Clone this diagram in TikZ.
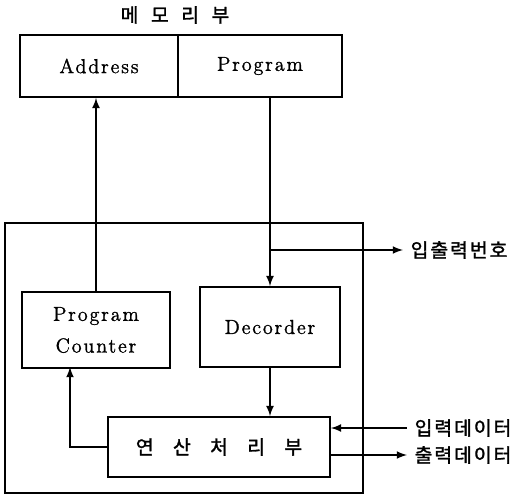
\documentclass[tikz,border=0pt]{standalone}
\usepackage{fontspec}
\setmainfont{Latin Modern Roman}[LetterSpace=9,FakeBold=1.2]
\newfontfamily\kr{Noto Sans CJK KR}[LetterSpace=10,FakeBold=1.5]
\usetikzlibrary{positioning}

\begin{document}
\begin{tikzpicture}[x=0.02cm,y=-0.02cm,thick]
    %
    % `block' is used for the boxes, `label' for the Korean texts.
    \tikzstyle{block} = [draw,line width=1pt,inner sep=0pt,font=\fontsize{11.5}{13}\selectfont]
    \tikzstyle{label} = [font=\fontsize{11}{13}\kr,inner sep=0pt]
    \tikzstyle{flow} = [-latex,line width=1pt]
    %
    \useasboundingbox (0,0) rectangle (514,501);
    %
    % Memory
    \node[label] (mem) at (175,15) {메\ \ 모\ \ 리\ \ 부};
    \node[block,minimum width=158*0.02cm,minimum height=62*0.02cm] (addr) at (99,66) {Address};
    \node[block,minimum width=164*0.02cm,minimum height=62*0.02cm] (prog) at (260,66) {Program};
    %
    % CPU frame
    \node[draw,line width=1.4pt,minimum width=358*0.02cm,minimum height=270*0.02cm] (cpu) at (184,358) {};
    %
    % Inner blocks
    \node[block,align=center,minimum width=148*0.02cm,minimum height=76*0.02cm] (pc) at (96,330) {Program\\[5pt]Counter};
    \node[block,minimum width=140*0.02cm,minimum height=80*0.02cm] (dec) at (270,327) {Decorder};
    \node[block,font=\fontsize{11}{13}\kr,minimum width=222*0.02cm,minimum height=60*0.02cm] (alu) at (219,447) {연\quad 산\quad 처\quad 리\quad 부};
    %
    % Outside labels
    \node[label,anchor=west] (ionum) at (410,250) {입출력번호};
    \node[label,anchor=west] (din) at (414,428) {입력데이터};
    \node[label,anchor=west] (dout) at (414,455) {출력데이터};
    %
    % Connections
    \coordinate (br) at (dec.north |- ionum);
    \coordinate (pcin) at (70,367);
    \draw[flow] (pc.north) -- (pc.north |- addr.south);
    \draw[flow] (dec.north |- prog.south) -- (dec.north);
    \draw[flow] (br) -- ([xshift=-4pt]ionum.west);
    \draw[flow] (dec.south) -- (dec.south |- alu.north);
    \draw[flow] (alu.west) -| (pcin);
    \draw[flow] ([xshift=-4pt]din.west) -- (alu.east |- din);
    \draw[flow] (alu.east |- dout) -- ([xshift=-4pt]dout.west);
    %
\end{tikzpicture}
\end{document}
